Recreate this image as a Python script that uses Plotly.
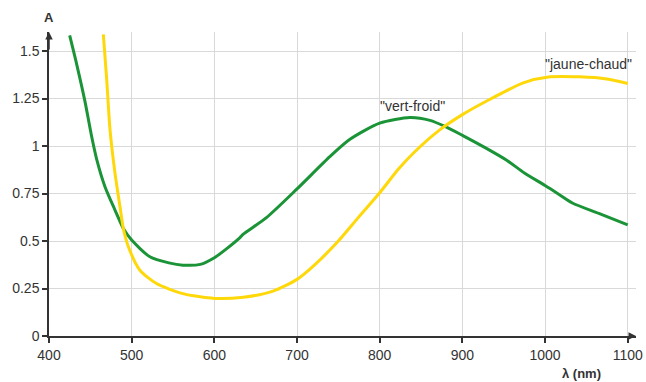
import plotly.graph_objects as go

# Green curve "vert-froid"
green_x = [425, 433.5, 443.5, 451.6, 457.7, 467.7, 479.8, 489.9, 500, 522, 545, 562, 583, 600, 615, 631, 635,
           663, 700, 740, 764, 800, 836.6, 860.8, 879, 900, 928, 953.6, 975, 1000, 1017, 1033, 1065, 1100]
green_y = [1.582, 1.43, 1.235, 1.05, 0.93, 0.786, 0.663, 0.566, 0.505, 0.417, 0.385, 0.373, 0.377, 0.412,
           0.46, 0.518, 0.536, 0.623, 0.774, 0.945, 1.035, 1.12, 1.15, 1.135, 1.103, 1.056, 0.99, 0.925,
           0.858, 0.792, 0.745, 0.70, 0.645, 0.585]

# Yellow curve "jaune-chaud"
yellow_x = [465.7, 469.8, 473.8, 479.8, 485.9, 489.9, 496, 510, 530, 562, 600, 635, 671, 700, 722, 750, 774,
            800, 823, 840.6, 873, 900, 930, 973.7, 1006, 1042, 1074.5, 1100]
yellow_y = [1.587, 1.35, 1.086, 0.857, 0.68, 0.566, 0.47, 0.346, 0.276, 0.223, 0.198, 0.204, 0.236, 0.298,
            0.377, 0.5, 0.623, 0.754, 0.88, 0.962, 1.086, 1.165, 1.238, 1.332, 1.364, 1.364, 1.353, 1.329]

x_ticks = [400, 500, 600, 700, 800, 900, 1000, 1100]
y_ticks = [0, 0.25, 0.5, 0.75, 1, 1.25, 1.5]
y_tick_text = ["0", "0.25", "0.5", "0.75", "1", "1.25", "1.5"]

GREEN = "#1b9437"
YELLOW = "#ffd80a"
TXT = "#333333"
FONT = "Liberation Sans, Arial, sans-serif"

fig = go.Figure()
fig.add_trace(go.Scatter(x=green_x, y=green_y, mode="lines",
                         line=dict(color=GREEN, width=3, shape="spline", smoothing=0.7),
                         hoverinfo="skip", showlegend=False))
fig.add_trace(go.Scatter(x=yellow_x, y=yellow_y, mode="lines",
                         line=dict(color=YELLOW, width=3, shape="spline", smoothing=0.7),
                         hoverinfo="skip", showlegend=False))

fig.update_layout(
    width=646, height=382,
    margin=dict(l=49, r=10, t=32, b=46, autoexpand=False),
    plot_bgcolor="white", paper_bgcolor="white",
    font=dict(family=FONT, size=14, color=TXT),
    showlegend=False,
)
fig.update_xaxes(range=[400, 1110], tickvals=x_ticks, ticktext=[str(v) for v in x_ticks],
                 showgrid=True, gridcolor="#d9d9d9", gridwidth=1, zeroline=False, automargin=False,
                 showline=True, linecolor=TXT, linewidth=1.5,
                 ticks="outside", ticklen=5, tickcolor=TXT, tickwidth=1.5,
                 tickfont=dict(size=14, color=TXT, family=FONT))
fig.update_yaxes(range=[0, 1.6], tickvals=y_ticks, ticktext=y_tick_text,
                 showgrid=True, gridcolor="#d9d9d9", gridwidth=1, zeroline=False, automargin=False,
                 showline=True, linecolor=TXT, linewidth=1.5,
                 ticks="outside", ticklen=5, tickcolor=TXT, tickwidth=1.5,
                 tickfont=dict(size=14, color=TXT, family=FONT))

# axis arrowheads
fig.add_annotation(x=1110, y=0, ax=1100, ay=0, xref="x", yref="y", axref="x", ayref="y",
                   showarrow=True, arrowhead=2, arrowsize=1, arrowwidth=1.5, arrowcolor=TXT, text="")
fig.add_annotation(x=400, y=1.6, ax=400, ay=1.5, xref="x", yref="y", axref="x", ayref="y",
                   showarrow=True, arrowhead=2, arrowsize=1, arrowwidth=1.5, arrowcolor=TXT, text="")

# curve labels
fig.add_annotation(x=840, y=1.209, xref="x", yref="y", text='"vert-froid"', showarrow=False,
                   xanchor="center", yanchor="middle", font=dict(size=14, color=TXT, family=FONT))
fig.add_annotation(x=1053, y=1.429, xref="x", yref="y", text='"jaune-chaud"', showarrow=False,
                   xanchor="center", yanchor="middle", font=dict(size=14, color=TXT, family=FONT))

# axis titles
fig.add_annotation(x=0.0, y=1.049, xref="paper", yref="paper", text="<b>A</b>", showarrow=False,
                   xanchor="center", yanchor="middle", font=dict(size=13, color=TXT, family=FONT))
fig.add_annotation(x=0.908, y=-0.123, xref="paper", yref="paper", text="<b>λ (nm)</b>", showarrow=False,
                   xanchor="center", yanchor="middle", font=dict(size=13, color=TXT, family=FONT))

fig.write_html("out.html", config={"displayModeBar": False},
               post_script="document.body.style.margin='0';document.body.style.overflow='hidden';")
